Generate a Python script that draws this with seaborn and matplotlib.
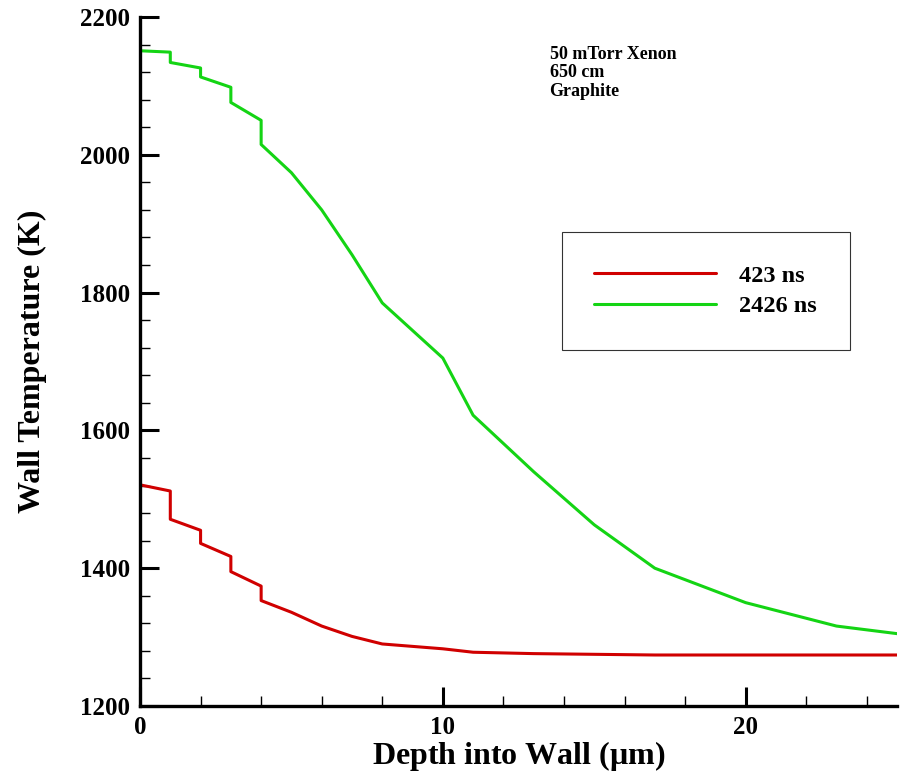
import numpy as np
import pandas as pd
import matplotlib as mpl
mpl.use("Agg")
from matplotlib import pyplot as plt
from matplotlib.ticker import MultipleLocator
import seaborn as sns

# depth (um) - repeated x values give the step jumps near the surface
depth = [0, 1, 1, 2, 2, 3, 3, 4, 4, 5, 6, 7, 8, 10, 11, 13, 15, 17, 20, 23, 25]
temp_423 = [1521, 1512, 1471, 1455, 1436, 1417, 1395, 1374, 1353, 1336, 1316,
            1301, 1290, 1283, 1278, 1276, 1275, 1274, 1274, 1274, 1274]
temp_2426 = [2151, 2149, 2134, 2126, 2113, 2098, 2076, 2050, 2015, 1974, 1920,
             1855, 1785, 1705, 1622, 1540, 1463, 1400, 1350, 1316, 1305]
labels = ["423 ns", "2426 ns"]
colors = ["#d00000", "#14d414"]

dframe = pd.concat([
    pd.DataFrame({"depth": depth, "T": temp_423, "time": labels[0]}),
    pd.DataFrame({"depth": depth, "T": temp_2426, "time": labels[1]}),
])

sns.set_style("ticks")
plt.rcParams['font.family'] = ['Liberation Serif', 'DejaVu Serif']
plt.rcParams['font.weight'] = 'bold'
plt.rcParams['text.color'] = 'black'
plt.rcParams['axes.labelcolor'] = 'black'
plt.rcParams['xtick.color'] = 'black'
plt.rcParams['ytick.color'] = 'black'
plt.rcParams['axes.edgecolor'] = 'black'
plt.rcParams['mathtext.fontset'] = 'custom'
plt.rcParams['mathtext.rm'] = 'Liberation Serif:bold'
plt.rcParams['mathtext.it'] = 'Liberation Serif:bold'

fig = plt.figure(figsize=(9.01, 7.73), dpi=100)
ax = fig.add_axes([0.1554, 0.0867, 0.8402, 0.8913])

sns.lineplot(ax=ax, data=dframe, x="depth", y="T", hue="time", palette=colors,
             estimator=None, sort=False, units="time", linewidth=2.2)

ax.set_xlim(0, 25)
ax.set_ylim(1200, 2200)
ax.xaxis.set_major_locator(MultipleLocator(10))
ax.xaxis.set_minor_locator(MultipleLocator(2))
ax.yaxis.set_major_locator(MultipleLocator(200))
ax.yaxis.set_minor_locator(MultipleLocator(40))
ax.tick_params(which="major", direction="in", length=14, width=2.2, labelsize=18, pad=7)
ax.tick_params(which="minor", direction="in", length=7, width=1)
for lab in ax.get_xticklabels() + ax.get_yticklabels():
    lab.set_fontweight("bold")

sns.despine(ax=ax)
ax.spines["left"].set_linewidth(2.4)
ax.spines["bottom"].set_linewidth(2.4)

ax.set_xlabel(r"Depth into Wall ($\mu$m)", fontsize=23, fontweight="bold", labelpad=0)
ax.set_ylabel("Wall Temperature (K)", fontsize=23, fontweight="bold", labelpad=24)

ax.text(0.541, 0.958, "50 mTorr Xenon\n650 cm\nGraphite", transform=ax.transAxes,
        fontsize=13, fontweight="bold", va="top", ha="left", linespacing=1.1)

leg = ax.legend(loc="upper left", bbox_to_anchor=(0.557, 0.688), borderaxespad=0,
                frameon=True, fancybox=False, edgecolor="black",
                handlelength=5.0, handletextpad=0.95, borderpad=1.35, labelspacing=0.35,
                prop={"weight": "bold", "size": 17.5})
leg.get_frame().set_linewidth(0.8)
for line in leg.get_lines():
    line.set_linewidth(2.2)

fig.savefig("out.png", dpi=100)
